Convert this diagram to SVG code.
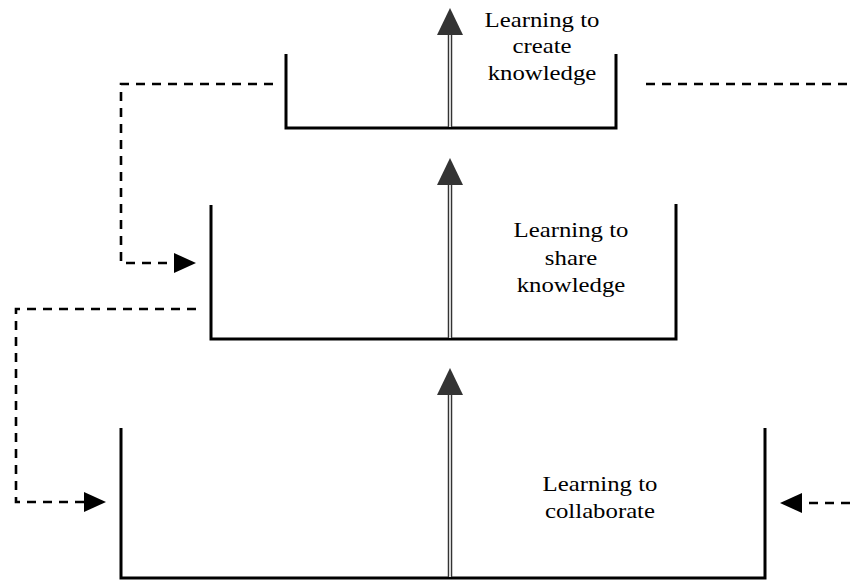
<svg xmlns="http://www.w3.org/2000/svg" width="850" height="582" viewBox="0 0 850 582">
<style>
.box{fill:none;stroke:#000;stroke-width:3;stroke-linejoin:miter}
.dash{fill:none;stroke:#000;stroke-width:2.6;stroke-dasharray:9 7}
.head{fill:#000}
.shaft{stroke:#333;stroke-width:4.5}
.shaftin{stroke:#fff;stroke-width:1.6}
.up{fill:#333}
.lbl{font-family:'Liberation Serif','Times New Roman',Times,serif;font-size:21px;fill:#000;text-anchor:middle}
</style>
<rect width="850" height="582" fill="#fff"/>
<g id="connectors">
<path class="dash" d="M273 84 H121 V263 H176"/>
<polygon class="head" points="174,253 196,263 174,273"/>
<path class="dash" d="M196 309 H16 V502 H86"/>
<polygon class="head" points="84,492 106,502 84,512"/>
<path class="dash" d="M646 84 H850"/>
<path class="dash" d="M850 503 H800"/>
<polygon class="head" points="802,493 780,503 802,513"/>
</g>
<g id="box-create">
<path class="box" d="M286 54 V128 H616 V54"/>
<line class="shaft" x1="450" y1="34" x2="450" y2="127"/>
<line class="shaftin" x1="450" y1="34" x2="450" y2="127"/>
<polygon class="up" points="450,8 437,35 463,35"/>
<g class="lbl" transform="translate(542,0) scale(1.18,1)">
<text x="0" y="27">Learning to</text>
<text x="0" y="53">create</text>
<text x="0" y="80">knowledge</text>
</g>
</g>
<g id="box-share">
<path class="box" d="M211 205 V339 H676 V204"/>
<line class="shaft" x1="450" y1="184" x2="450" y2="338"/>
<line class="shaftin" x1="450" y1="184" x2="450" y2="338"/>
<polygon class="up" points="450,158 437,185 463,185"/>
<g class="lbl" transform="translate(571,0) scale(1.18,1)">
<text x="0" y="237">Learning to</text>
<text x="0" y="265">share</text>
<text x="0" y="292">knowledge</text>
</g>
</g>
<g id="box-collaborate">
<path class="box" d="M121 428 V578 H765 V428"/>
<line class="shaft" x1="450" y1="394" x2="450" y2="577"/>
<line class="shaftin" x1="450" y1="394" x2="450" y2="577"/>
<polygon class="up" points="450,368 437,395 463,395"/>
<g class="lbl" transform="translate(600,0) scale(1.18,1)">
<text x="0" y="491">Learning to</text>
<text x="0" y="518">collaborate</text>
</g>
</g>
</svg>
